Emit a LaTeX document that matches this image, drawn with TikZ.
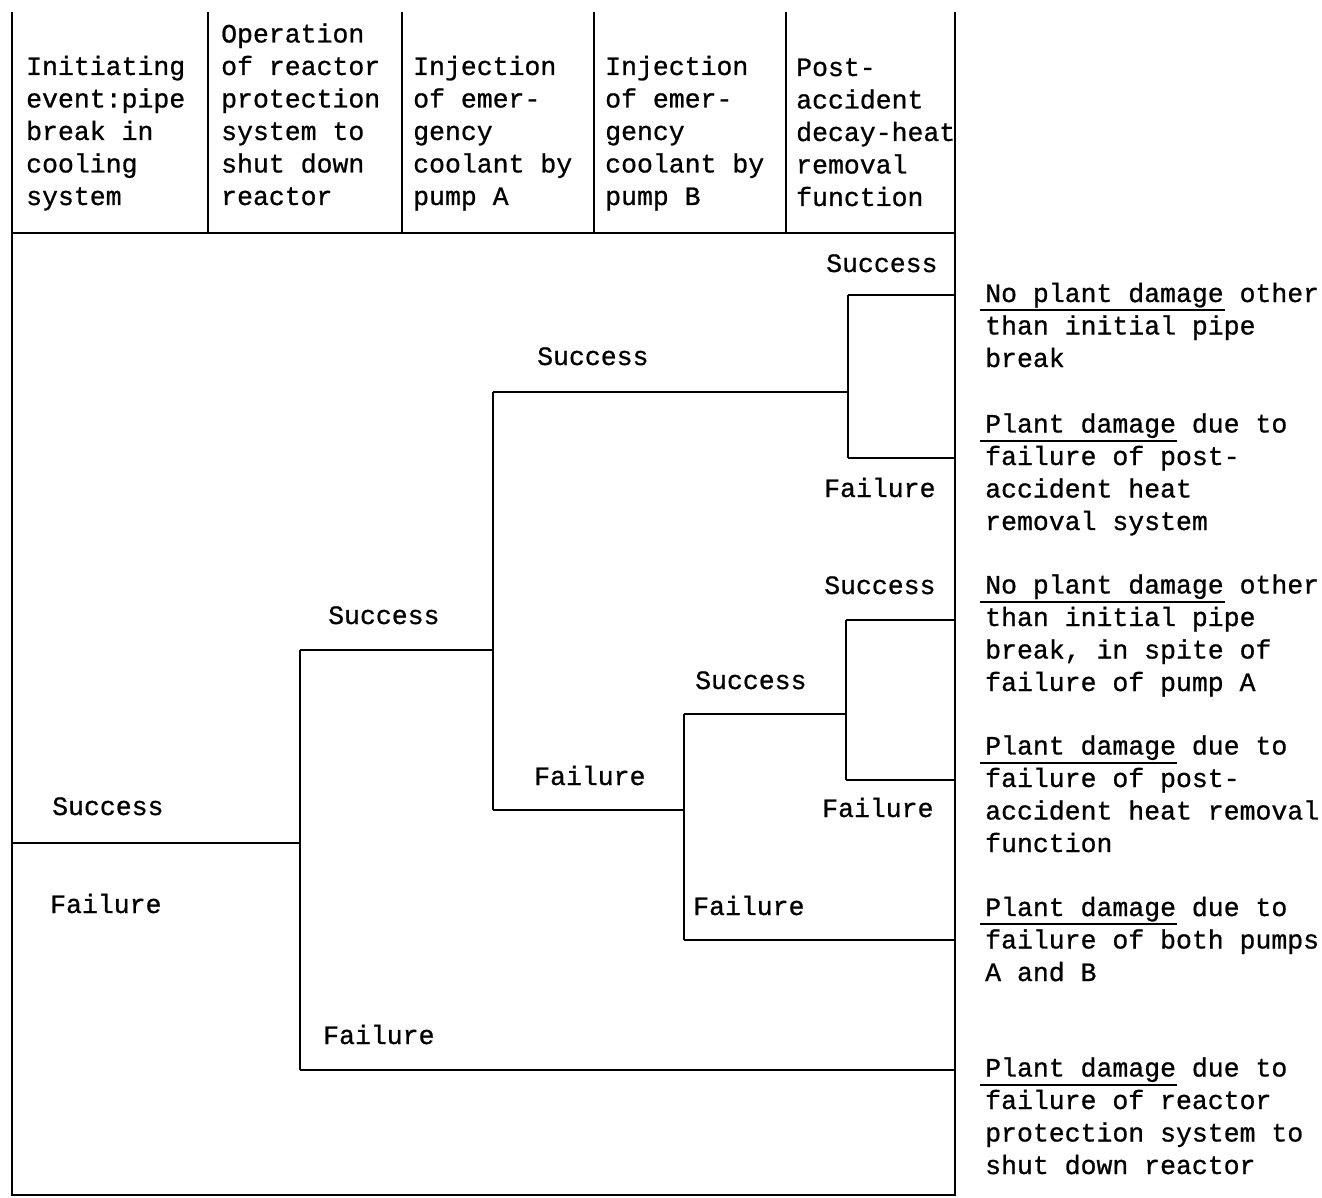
\documentclass[tikz,border=0pt]{standalone}
\usepackage{fontspec}
\setmonofont[FakeBold=0.8]{Liberation Mono}
\newcommand\ulin[1]{\setbox0\hbox{#1}\rlap{\kern-5pt\rule[-9pt]{\dimexpr\wd0+6pt\relax}{1.8pt}}\box0\relax}
\begin{document}
\begin{tikzpicture}[x=1pt,y=-1pt,
  ln/.style={line width=2pt},
  txt/.style={anchor=base west,inner sep=0pt,align=left,font=\ttfamily\fontsize{26.5}{32.5}\selectfont}]
\fill[white] (0,0) rectangle (1322,1198);
\useasboundingbox (0,0) rectangle (1322,1198);
% frame
\coordinate (FTL) at (12,12);
\coordinate (FBL) at (12,1195);
\coordinate (FBR) at (955,1195);
\coordinate (FTR) at (955,12);
\coordinate (HL) at (12,233);
\coordinate (HR) at (955,233);
\draw[ln] (FTL) -- (FBL) -- (FBR) -- (FTR);
\draw[ln] (HL) -- (HR);
\foreach \x/\n in {208/a,402/b,594/c,786/d}{
  \coordinate (T\n) at (\x,12);
  \coordinate (B\n) at (\x,233);
  \draw[ln] (T\n) -- (B\n);
}
% header texts (anchored at the baseline of their last line)
\node[txt] (h1) at (26,205) {Initiating\\event:pipe\\break in\\cooling\\system};
\node[txt] (h2) at (221,205) {Operation\\of reactor\\protection\\system to\\shut down\\reactor};
\node[txt] (h3) at (413,205) {Injection\\of emer-\\gency\\coolant by\\pump A};
\node[txt] (h4) at (605,205) {Injection\\of emer-\\gency\\coolant by\\pump B};
\node[txt] (h5) at (796,206) {Post-\\accident\\decay-heat\\removal\\function};
% tree coordinates
\coordinate (s0) at (12,843);
\coordinate (n1) at (300,843);
\coordinate (n1t) at (300,650);
\coordinate (n1b) at (300,1070);
\coordinate (n2t) at (493,650);
\coordinate (n2u) at (493,392);
\coordinate (n2b) at (493,810);
\coordinate (n3) at (848,392);
\coordinate (n3t) at (848,295);
\coordinate (n3b) at (848,458);
\coordinate (n4) at (684,810);
\coordinate (n4t) at (684,714);
\coordinate (n4b) at (684,940);
\coordinate (n5) at (846,714);
\coordinate (n5t) at (846,620);
\coordinate (n5b) at (846,780);
\coordinate (e1) at (955,295);
\coordinate (e2) at (955,458);
\coordinate (e3) at (955,620);
\coordinate (e4) at (955,780);
\coordinate (e5) at (955,940);
\coordinate (e6) at (955,1070);
\draw[ln] (s0) -- (n1);
\draw[ln] (n1t) -- (n1b);
\draw[ln] (n1t) -- (n2t);
\draw[ln] (n2u) -- (n2b);
\draw[ln] (n2u) -- (n3);
\draw[ln] (n3t) -- (n3b);
\draw[ln] (n3t) -- (e1);
\draw[ln] (n3b) -- (e2);
\draw[ln] (n2b) -- (n4);
\draw[ln] (n4t) -- (n4b);
\draw[ln] (n4t) -- (n5);
\draw[ln] (n5t) -- (n5b);
\draw[ln] (n5t) -- (e3);
\draw[ln] (n5b) -- (e4);
\draw[ln] (n4b) -- (e5);
\draw[ln] (n1b) -- (e6);
% branch labels
\node[txt] (l1) at (826,272) {Success};
\node[txt] (l2) at (537,365) {Success};
\node[txt] (l3) at (824,497) {Failure};
\node[txt] (l4) at (824,594) {Success};
\node[txt] (l5) at (328,624) {Success};
\node[txt] (l6) at (695,689) {Success};
\node[txt] (l7) at (534,785) {Failure};
\node[txt] (l8) at (822,817) {Failure};
\node[txt] (l9) at (52,815) {Success};
\node[txt] (l10) at (50,913) {Failure};
\node[txt] (l11) at (693,915) {Failure};
\node[txt] (l12) at (323,1044) {Failure};
% outcomes (anchored at the baseline of their last line)
\node[txt] (o1) at (985,367) {\ulin{No plant damage} other\\than initial pipe\\break};
\node[txt] (o2) at (985,530) {\ulin{Plant damage} due to\\failure of post-\\accident heat\\removal system};
\node[txt] (o3) at (985,691) {\ulin{No plant damage} other\\than initial pipe\\break, in spite of\\failure of pump A};
\node[txt] (o4) at (985,852) {\ulin{Plant damage} due to\\failure of post-\\accident heat removal\\function};
\node[txt] (o5) at (985,981) {\ulin{Plant damage} due to\\failure of both pumps\\A and B};
\node[txt] (o6) at (985,1174) {\ulin{Plant damage} due to\\failure of reactor\\protection system to\\shut down reactor};
\end{tikzpicture}
\end{document}
